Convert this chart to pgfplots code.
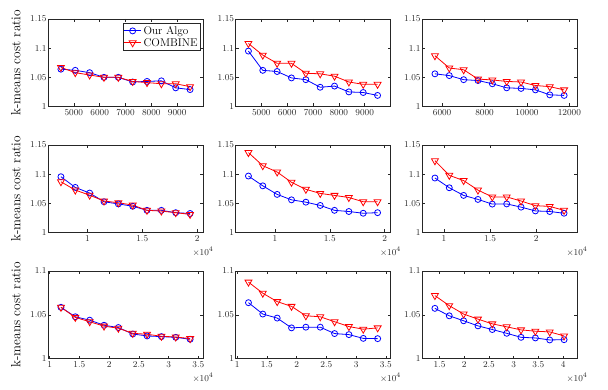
\documentclass[border=0pt]{standalone}
\usepackage{pgfplots}
\pgfplotsset{compat=1.18}
\definecolor{axc}{RGB}{38,38,38}
\definecolor{mblue}{RGB}{0,0,255}
\definecolor{mred}{RGB}{255,0,0}
\pgfplotsset{
  cr/.style={
    scale only axis, width=155pt, height=87.5pt, anchor=north west,
    ymin=1, ymax=1.15, ytick={1,1.05,1.1,1.15},
    scaled x ticks=false, scaled y ticks=false,
    /pgf/number format/1000 sep={},
    axis line style={axc, line width=0.5pt},
    tick style={axc, line width=0.5pt},
    major tick length=3pt,
    tick align=inside,
    tick label style={font=\fontsize{9.3}{10}\selectfont, text=axc},
    yticklabel style={inner sep=1.2pt},
  },
  ylab/.style={
    ylabel={k-means cost ratio},
    y label style={at={([xshift=-27.5pt]rel axis cs:0,0.5)}, anchor=base,
      font=\fontsize{13.4}{15}\selectfont},
  },
  ours/.style={mblue, line width=0.8pt, mark=o, mark size=3pt,
    mark options={line width=0.8pt}},
  comb/.style={mred, line width=0.8pt, mark=triangle, mark size=4pt,
    mark options={rotate=180, line width=0.8pt}},
}
\newcommand{\xten}[1]{\node[font=\fontsize{9.3}{10}\selectfont, text=axc] at ([yshift=-19pt]#1.south east) {$\times10^{4}$};}

\begin{document}
\begin{tikzpicture}
\useasboundingbox (0,0) rectangle (608pt,389pt);

% row 1
\begin{axis}[cr, ylab, at={(48pt,370pt)}, xmin=4000, xmax=10000,
  xtick={5000,6000,7000,8000,9000},
  legend cell align=left,
  legend style={at={(rel axis cs:0.985,0.955)}, anchor=north east,
    font=\fontsize{11.2}{12}\selectfont, draw=axc, inner sep=1pt, row sep=-1.5pt}]
\addplot[ours] coordinates {(4500,1.064) (5056,1.062) (5611,1.058) (6167,1.050) (6722,1.050) (7278,1.042) (7833,1.043) (8389,1.044) (8944,1.032) (9500,1.029)};
\addplot[comb] coordinates {(4500,1.067) (5056,1.058) (5611,1.054) (6167,1.050) (6722,1.050) (7278,1.043) (7833,1.041) (8389,1.039) (8944,1.039) (9500,1.034)};
\legend{Our Algo, COMBINE}
\end{axis}

\begin{axis}[cr, at={(235.5pt,370pt)}, xmin=4000, xmax=10000,
  xtick={5000,6000,7000,8000,9000}]
\addplot[ours] coordinates {(4500,1.095) (5056,1.062) (5611,1.060) (6167,1.049) (6722,1.046) (7278,1.033) (7833,1.035) (8389,1.025) (8944,1.024) (9500,1.019)};
\addplot[comb] coordinates {(4500,1.108) (5056,1.088) (5611,1.074) (6167,1.074) (6722,1.057) (7278,1.056) (7833,1.052) (8389,1.042) (8944,1.038) (9500,1.038)};
\end{axis}

\begin{axis}[cr, at={(422pt,370pt)}, xmin=5050, xmax=12360,
  xtick={6000,8000,10000,12000}]
\addplot[ours] coordinates {(5660,1.056) (6337,1.053) (7014,1.046) (7691,1.0445) (8368,1.039) (9045,1.032) (9722,1.031) (10399,1.0285) (11076,1.020) (11753,1.019)};
\addplot[comb] coordinates {(5660,1.087) (6337,1.066) (7014,1.063) (7691,1.047) (8368,1.0455) (9045,1.043) (9722,1.042) (10399,1.036) (11076,1.034) (11753,1.0285)};
\end{axis}

% row 2 (x in units of 10^4)
\begin{axis}[cr, ylab, name=r21, at={(48pt,244pt)}, xmin=0.64, xmax=2.054,
  xtick={1,1.5,2}]
\addplot[ours] coordinates {(0.758,1.0956) (0.889,1.0773) (1.020,1.0676) (1.151,1.0527) (1.282,1.049) (1.413,1.045) (1.543,1.038) (1.674,1.038) (1.805,1.034) (1.936,1.0326)};
\addplot[comb] coordinates {(0.758,1.087) (0.889,1.0727) (1.020,1.064) (1.151,1.054) (1.282,1.051) (1.413,1.047) (1.543,1.038) (1.674,1.0367) (1.805,1.034) (1.936,1.031)};
\end{axis}

\begin{axis}[cr, name=r22, at={(235.5pt,244pt)}, xmin=0.64, xmax=2.054,
  xtick={1,1.5,2}]
\addplot[ours] coordinates {(0.758,1.0968) (0.889,1.080) (1.020,1.0653) (1.151,1.056) (1.282,1.052) (1.413,1.0464) (1.543,1.038) (1.674,1.036) (1.805,1.033) (1.936,1.034)};
\addplot[comb] coordinates {(0.758,1.137) (0.889,1.1145) (1.020,1.1037) (1.151,1.086) (1.282,1.074) (1.413,1.067) (1.543,1.0636) (1.674,1.060) (1.805,1.0527) (1.936,1.0527)};
\end{axis}

\begin{axis}[cr, name=r23, at={(422pt,244pt)}, xmin=0.764, xmax=2.44,
  xtick={1,1.5,2}]
\addplot[ours] coordinates {(0.904,1.0934) (1.059,1.0767) (1.214,1.0636) (1.369,1.0567) (1.524,1.0487) (1.680,1.049) (1.835,1.0435) (1.990,1.037) (2.145,1.036) (2.300,1.033)};
\addplot[comb] coordinates {(0.904,1.123) (1.059,1.098) (1.214,1.089) (1.369,1.0727) (1.524,1.061) (1.680,1.061) (1.835,1.054) (1.990,1.046) (2.145,1.0447) (2.300,1.038)};
\end{axis}

% row 3
\begin{axis}[cr, ylab, name=r31, at={(48pt,118pt)}, xmin=0.972, xmax=3.578,
  ymax=1.1, ytick={1,1.05,1.1}, xtick={1,1.5,2,2.5,3,3.5}]
\addplot[ours] coordinates {(1.190,1.0585) (1.431,1.0477) (1.673,1.0438) (1.914,1.038) (2.155,1.0354) (2.397,1.028) (2.638,1.0258) (2.879,1.025) (3.120,1.0242) (3.362,1.022)};
\addplot[comb] coordinates {(1.190,1.0585) (1.431,1.047) (1.673,1.042) (1.914,1.037) (2.155,1.0346) (2.397,1.0288) (2.638,1.0277) (2.879,1.0254) (3.120,1.0246) (3.362,1.0227)};
\end{axis}

\begin{axis}[cr, name=r32, at={(235.5pt,118pt)}, xmin=0.972, xmax=3.578,
  ymax=1.1, ytick={1,1.05,1.1}, xtick={1,1.5,2,2.5,3,3.5}]
\addplot[ours] coordinates {(1.190,1.0638) (1.431,1.0508) (1.673,1.0462) (1.914,1.035) (2.155,1.0358) (2.397,1.0358) (2.638,1.0285) (2.879,1.0273) (3.120,1.023) (3.362,1.0227)};
\addplot[comb] coordinates {(1.190,1.0873) (1.431,1.0746) (1.673,1.065) (1.914,1.0596) (2.155,1.0488) (2.397,1.0477) (2.638,1.042) (2.879,1.0365) (3.120,1.0335) (3.362,1.035)};
\end{axis}

\begin{axis}[cr, name=r33, at={(422pt,118pt)}, xmin=1.146, xmax=4.281,
  ymax=1.1, ytick={1,1.05,1.1}, xtick={1.5,2,2.5,3,3.5,4}]
\addplot[ours] coordinates {(1.407,1.0573) (1.697,1.0488) (1.988,1.0431) (2.278,1.0373) (2.568,1.0331) (2.859,1.0288) (3.149,1.0242) (3.439,1.0235) (3.729,1.0212) (4.020,1.0215)};
\addplot[comb] coordinates {(1.407,1.0719) (1.697,1.0604) (1.988,1.0508) (2.278,1.045) (2.568,1.0396) (2.859,1.0362) (3.149,1.0327) (3.439,1.0312) (3.729,1.0304) (4.020,1.0258)};
\end{axis}

\xten{r21}\xten{r22}\xten{r23}\xten{r31}\xten{r32}\xten{r33}
\end{tikzpicture}
\end{document}
